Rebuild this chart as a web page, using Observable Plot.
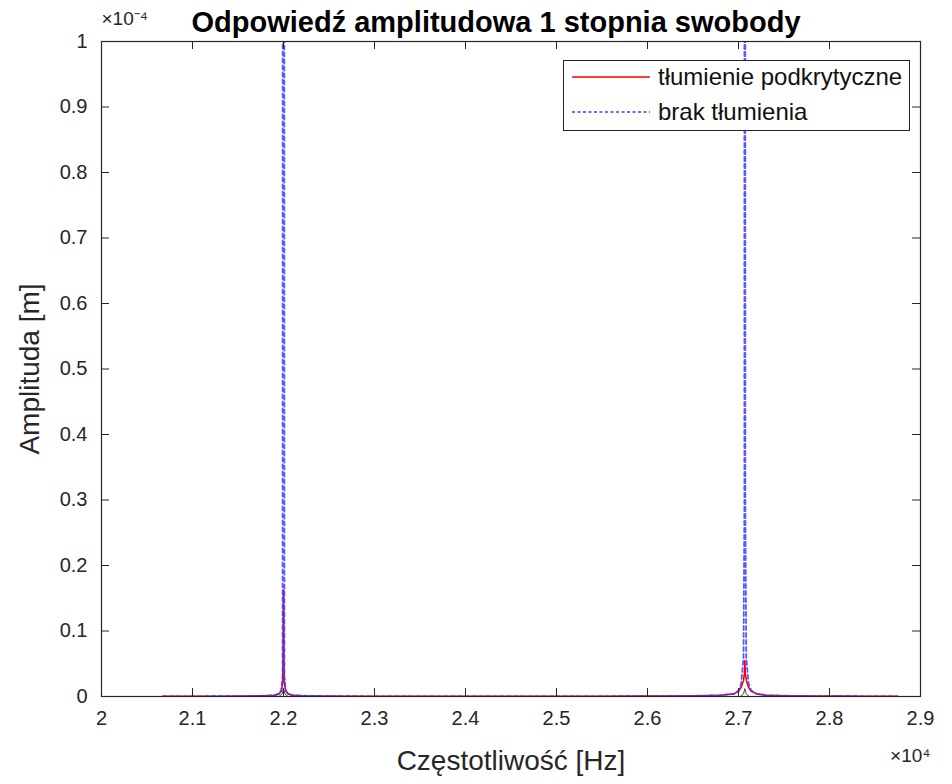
<!DOCTYPE html>
<html><head><meta charset="utf-8">
<script src="https://cdn.jsdelivr.net/npm/d3@7"></script>
<script src="https://cdn.jsdelivr.net/npm/@observablehq/plot@0.6"></script>
<style>
body{margin:0;background:#fff;font-family:"Liberation Sans",Arial,sans-serif;}
#wrap{position:relative;width:952px;height:784px;}
#legend{position:absolute;left:563px;top:60px;width:347px;height:71px;border:1.5px solid #262626;background:#fff;box-sizing:border-box;font-size:24px;color:#111;}
.row{position:absolute;left:8px;display:flex;align-items:center;height:26px;}
.row svg{margin-right:8px;}
</style></head><body>
<div id="wrap"><div id="legend"></div></div>
<script>
// Frequency samples [Hz]
const freq = [20670, 21000, 21300, 21600, 21800, 21900, 21950, 21975, 21990, 21995, 22000, 22005, 22010, 22025, 22050, 22100, 22200, 22400, 22700, 23000, 23500, 24000, 24500, 25000, 25500, 26000, 26300, 26600, 26800, 26950, 27000, 27030, 27055, 27065, 27070, 27075, 27085, 27110, 27140, 27200, 27300, 27500, 27800, 28100, 28400, 28750];
// Amplitude, units of 1e-4 m
const damped = [0.0002, 0.0003, 0.0004, 0.0007, 0.0012, 0.002, 0.004, 0.008, 0.02, 0.05, 0.163, 0.05, 0.02, 0.008, 0.004, 0.002, 0.0012, 0.0007, 0.0004, 0.0003, 0.0002, 0.0002, 0.0002, 0.0003, 0.0003, 0.0005, 0.0008, 0.0012, 0.002, 0.004, 0.008, 0.014, 0.025, 0.035, 0.055, 0.035, 0.025, 0.014, 0.008, 0.004, 0.002, 0.0012, 0.0007, 0.0005, 0.0003, 0.0002];
const undamped = [0.0002, 0.0003, 0.0004, 0.0007, 0.0012, 0.002, 0.004, 0.009, 0.03, 5, 60, 5, 0.03, 0.009, 0.004, 0.002, 0.0012, 0.0007, 0.0004, 0.0003, 0.0002, 0.0002, 0.0002, 0.0003, 0.0003, 0.0005, 0.0008, 0.0012, 0.002, 0.004, 0.009, 0.02, 0.06, 0.3, 60, 0.3, 0.06, 0.02, 0.009, 0.004, 0.002, 0.0012, 0.0007, 0.0005, 0.0003, 0.0002];
// small dark spikes visible at the base of both resonances
const baseFreq = [21950, 21985, 22000, 22015, 22050, 27020, 27055, 27070, 27085, 27120];
const baseAmp = [0, 0.004, 0.012, 0.004, 0, 0, 0.004, 0.012, 0.004, 0];
const baseSeg = [1, 1, 1, 1, 1, 2, 2, 2, 2, 2];

const xTicks = [20000, 21000, 22000, 23000, 24000, 25000, 26000, 27000, 28000, 29000];
const yTicks = [0, 0.1, 0.2, 0.3, 0.4, 0.5, 0.6, 0.7, 0.8, 0.9, 1];

const titleText = "Odpowiedź amplitudowa 1 stopnia swobody";
const xLabel = "Częstotliwość [Hz]";
const yLabel = "Amplituda [m]";
const series = ["tłumienie podkrytyczne", "brak tłumienia"];

const W = 952, H = 784, mL = 101, mR = 32, mT = 41, mB = 88;
const fw = W - mL - mR, fh = H - mT - mB, tl = 8;
const gray = "#262626";

const dampedRows = freq.map((f, i) => ({f, a: damped[i]}));
const undampedRows = freq.map((f, i) => ({f, a: undamped[i]}));
const baseRows = baseFreq.map((f, i) => ({f, a: baseAmp[i], s: baseSeg[i]}));
const fmt = d => String(+d.toFixed(1));

const chart = Plot.plot({
  width: W, height: H,
  marginLeft: mL, marginRight: mR, marginTop: mT, marginBottom: mB,
  style: {fontFamily: "Liberation Sans, Arial, sans-serif", fontSize: "20px", color: gray, background: "#fff"},
  x: {domain: [20000, 29000]},
  y: {domain: [0, 1]},
  marks: [
    Plot.line(dampedRows, {x: "f", y: "a", stroke: "#ff0000", strokeWidth: 1.6, clip: true}),
    Plot.line(undampedRows, {x: "f", y: "a", stroke: "#3c3cff", strokeWidth: 1.8, strokeDasharray: "4,3", strokeOpacity: 0.85, clip: true}),
    Plot.line(baseRows, {x: "f", y: "a", z: "s", stroke: "#222", strokeWidth: 1, strokeOpacity: 0.8, clip: true}),
    Plot.frame({stroke: gray, strokeWidth: 1.2}),
    Plot.ruleX(xTicks, {stroke: gray, insetTop: fh - tl}),
    Plot.ruleX(xTicks, {stroke: gray, insetBottom: fh - tl}),
    Plot.ruleY(yTicks, {stroke: gray, insetRight: fw - tl}),
    Plot.ruleY(yTicks, {stroke: gray, insetLeft: fw - tl}),
    Plot.axisX(xTicks, {tickSize: 0, tickPadding: 14, tickFormat: d => fmt(d / 1e4), fill: gray, label: null}),
    Plot.axisY(yTicks, {tickSize: 0, tickPadding: 14, tickFormat: fmt, fill: gray, label: null}),
    Plot.text([titleText], {frameAnchor: "top", dy: -19, dx: -15, lineAnchor: "middle", textAnchor: "middle", fontWeight: "bold", fontSize: 29, fill: "#000"}),
    Plot.text([xLabel], {frameAnchor: "bottom", dy: 65, lineAnchor: "middle", textAnchor: "middle", fontSize: 28, fill: gray}),
    Plot.text([yLabel], {frameAnchor: "left", dx: -71, rotate: -90, lineAnchor: "middle", textAnchor: "middle", fontSize: 28, fill: gray}),
    Plot.text(["×10⁴"], {frameAnchor: "bottom-right", dx: 10, dy: 59, lineAnchor: "middle", textAnchor: "end", fontSize: 19, fill: gray}),
    Plot.text(["×10⁻⁴"], {frameAnchor: "top-left", dx: 0, dy: -23, lineAnchor: "middle", textAnchor: "start", fontSize: 19, fill: gray})
  ]
});
document.getElementById("wrap").prepend(chart);

// legend
const legend = document.getElementById("legend");
const styles = [
  {stroke: "#ff0000", dash: null, w: 1.6},
  {stroke: "#3c3cff", dash: "3,2.5", w: 1.3}
];
series.forEach((name, i) => {
  const row = document.createElement("div");
  row.className = "row";
  row.style.top = (i === 0 ? 3 : 38) + "px";
  const s = styles[i];
  row.innerHTML = `<svg width="78" height="10"><line x1="0" x2="78" y1="5" y2="5" stroke="${s.stroke}" stroke-width="${s.w}" ${s.dash ? `stroke-dasharray="${s.dash}"` : ""}/></svg><span>${name}</span>`;
  legend.appendChild(row);
});
</script>
</body></html>
